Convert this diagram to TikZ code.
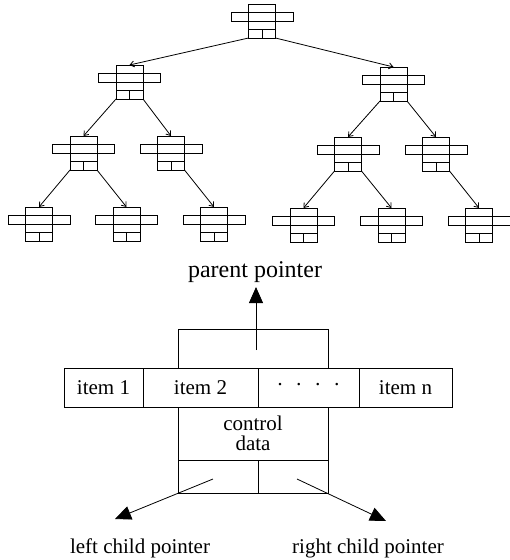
\documentclass[tikz,border=0pt]{standalone}
\usepackage{fontspec}
\setmainfont{Liberation Serif}
\usetikzlibrary{arrows.meta}
\begin{document}
\begin{tikzpicture}[x=1pt,y=-1pt, line width=0.8pt,
  tn/.pic={
    \node[draw, minimum width=27pt, minimum height=34pt, inner sep=0pt, outer sep=0pt, anchor=north] (-b) at (0,0) {};
    \draw (-31,8) rectangle (31,17);
    \draw (-13.5,25) -- (13.5,25);
    \draw (0,25) -- (0,34);
  },
  link/.style={-{Straight Barb[length=4pt,width=6pt]}},
  big/.style={-{Triangle[length=16pt,width=14pt]}},
  cell/.style={draw, inner sep=0pt, outer sep=0pt, minimum height=39pt, font=\fontsize{21}{18}\selectfont},
  lbl/.style={font=\fontsize{21}{18}\selectfont, anchor=base, inner sep=0pt}
]
\useasboundingbox (0,0) rectangle (510,560);

% tree of small nodes
\pic (n0) at (262,4) {tn};
\pic (n1a) at (129.5,65) {tn};
\pic (n1b) at (393.5,67) {tn};
\pic (n2a) at (83.5,136) {tn};
\pic (n2b) at (171,136) {tn};
\pic (n2c) at (348,137) {tn};
\pic (n2d) at (436,137) {tn};
\pic (n3a) at (39,207) {tn};
\pic (n3b) at (126.5,207) {tn};
\pic (n3c) at (214,207) {tn};
\pic (n3d) at (303.5,208) {tn};
\pic (n3e) at (391.5,208) {tn};
\pic (n3f) at (479,208) {tn};

\draw[link] (n0-b.south west) -- (n1a-b.north);
\draw[link] (n0-b.south east) -- (n1b-b.north);
\draw[link] (n1a-b.south west) -- (n2a-b.north);
\draw[link] (n1a-b.south east) -- (n2b-b.north);
\draw[link] (n1b-b.south west) -- (n2c-b.north);
\draw[link] (n1b-b.south east) -- (n2d-b.north);
\draw[link] (n2a-b.south west) -- (n3a-b.north);
\draw[link] (n2a-b.south east) -- (n3b-b.north);
\draw[link] (n2b-b.south east) -- (n3c-b.north);
\draw[link] (n2c-b.south west) -- (n3d-b.north);
\draw[link] (n2c-b.south east) -- (n3e-b.north);
\draw[link] (n2d-b.south east) -- (n3f-b.north);

% detailed node
\node[cell, minimum width=150pt] (top) at (253,348.5) {};
\node[cell, minimum width=79pt] (i1) at (103.5,387.5) {item 1};
\node[cell, minimum width=115pt] (i2) at (200.5,387.5) {item 2};
\node[cell, minimum width=101pt] (dots) at (308.5,387.5) {·\hspace{12pt}·\hspace{12pt}·\hspace{12pt}·};
\node[cell, minimum width=93pt] (in) at (405.5,387.5) {item n};
\node[cell, minimum width=150pt, minimum height=53pt, align=center, font=\fontsize{21}{20}\selectfont] (ctrl) at (253,433.5) {control\\data};
\node[cell, minimum width=80pt, minimum height=33pt] (bl) at (218,476.5) {};
\node[cell, minimum width=70pt, minimum height=33pt] (br) at (293,476.5) {};

\coordinate (pa) at (256,350);
\coordinate (pt) at (256,287);
\draw[big] (pa) -- (pt);
\node[font=\fontsize{24}{24}\selectfont, anchor=base, inner sep=0pt] (ptext) at (255,277) {parent pointer};

\coordinate (ls) at (213,479);
\coordinate (lt) at (115,519);
\draw[big] (ls) -- (lt);
\coordinate (rs) at (297,479);
\coordinate (rt) at (386,521);
\draw[big] (rs) -- (rt);

\node[lbl] (ltext) at (140,553) {left child pointer};
\node[lbl] (rtext) at (368,553) {right child pointer};
\end{tikzpicture}
\end{document}
